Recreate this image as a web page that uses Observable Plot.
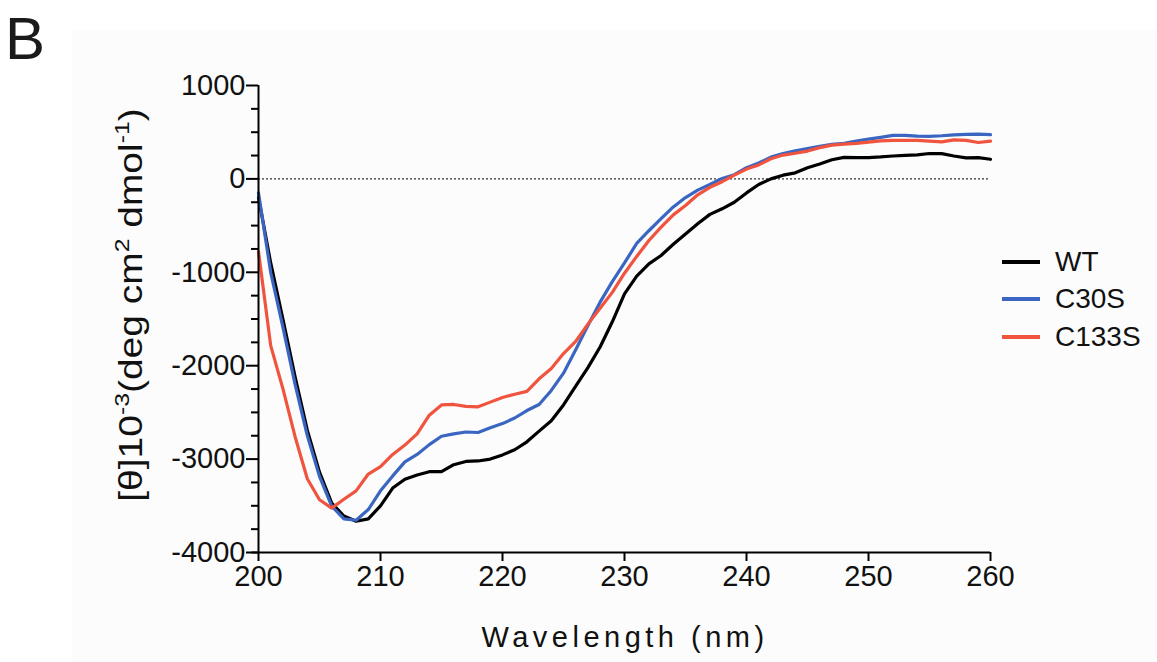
<!DOCTYPE html>
<html>
<head>
<meta charset="utf-8">
<script src="https://cdn.jsdelivr.net/npm/d3@7"></script>
<script src="https://cdn.jsdelivr.net/npm/@observablehq/plot@0.6"></script>
<style>
  html, body { margin: 0; padding: 0; background: #ffffff; }
  #wrap { position: relative; width: 1157px; height: 662px; overflow: hidden; font-family: "Liberation Sans", Arial, sans-serif; color: #111; }
  #panel { position: absolute; left: 72px; top: 30px; width: 1085px; height: 632px; background: #fbfcfb; }
  #letter { position: absolute; left: 5px; top: 9px; font-size: 60px; line-height: 1; color: #1a1a1a; }
  #chart { position: absolute; left: 0; top: 0; }
  #ylabel { position: absolute; left: 131px; top: 305px; transform: translate(-50%, -50%) rotate(-90deg) scaleX(1.18); white-space: nowrap; font-size: 33px; }
  #ylabel sup { font-size: 21px; vertical-align: 0; position: relative; top: -13px; }
  #xlabel { position: absolute; left: 625px; top: 637px; transform: translate(-50%, -50%); white-space: nowrap; font-size: 29px; letter-spacing: 4.5px; }
  #legend { position: absolute; left: 1002px; top: 243px; }
  .lg { display: flex; align-items: center; height: 37.5px; font-size: 28px; }
  .lg span.sw { display: inline-block; width: 38px; height: 4px; margin-right: 15px; }
</style>
</head>
<body>
<div id="wrap">
  <div id="panel"></div>
  <div id="letter">B</div>
  <div id="chart"></div>
  <div id="ylabel">[θ]10<sup>-3</sup>(deg cm<sup>2</sup> dmol<sup>-1</sup>)</div>
  <div id="xlabel">Wavelength (nm)</div>
  <div id="legend"></div>
</div>
<script>
// Wavelength (nm)
const wavelength = [200,201,202,203,204,205,206,207,208,209,210,211,212,213,214,215,216,217,218,219,220,221,222,223,224,225,226,227,228,229,230,231,232,233,234,235,236,237,238,239,240,241,242,243,244,245,246,247,248,249,250,251,252,253,254,255,256,257,258,259,260];

const seriesNames = ["WT", "C30S", "C133S"];
const seriesColors = ["#000000", "#3a66c2", "#f0533e"];

const wt = [-200,-900,-1500,-2120,-2690,-3140,-3470,-3610,-3665,-3640,-3500,-3310,-3215,-3170,-3135,-3135,-3060,-3025,-3020,-3000,-2955,-2900,-2815,-2700,-2590,-2420,-2220,-2020,-1800,-1530,-1230,-1040,-910,-820,-700,-590,-480,-380,-320,-250,-150,-60,0,40,65,120,160,205,230,228,228,235,245,252,258,272,270,245,225,227,210];

const c30s = [-150,-1002,-1587,-2200,-2749,-3185,-3503,-3640,-3655,-3540,-3340,-3180,-3030,-2950,-2845,-2755,-2730,-2710,-2715,-2665,-2620,-2560,-2480,-2415,-2265,-2080,-1830,-1570,-1320,-1100,-900,-690,-555,-426,-300,-200,-120,-60,5,45,120,170,233,272,300,325,350,370,382,405,425,445,466,466,457,455,462,472,476,480,473];

const c133s = [-780,-1785,-2245,-2760,-3210,-3435,-3525,-3430,-3340,-3160,-3080,-2950,-2850,-2730,-2530,-2420,-2415,-2435,-2440,-2390,-2340,-2305,-2275,-2140,-2030,-1870,-1740,-1555,-1385,-1215,-1010,-830,-660,-516,-385,-285,-170,-90,-30,40,105,150,216,255,275,298,335,362,373,380,394,408,412,412,412,405,396,418,412,390,405];

const yMajor = [-4000,-3000,-2000,-1000,0,1000];
const yMinor = d3.range(-4000, 1001, 250).filter(v => !yMajor.includes(v));
const xTicks = [200,210,220,230,240,250,260];

const allSeries = [wt, c30s, c133s];
const data = [];
allSeries.forEach((vals, si) => {
  vals.forEach((v, i) => data.push({series: seriesNames[si], wl: wavelength[i], v}));
});

const chart = Plot.plot({
  width: 1157,
  height: 662,
  marginLeft: 258,
  marginRight: 167,
  marginTop: 85,
  marginBottom: 110,
  style: {background: "transparent", fontFamily: "'Liberation Sans', Arial, sans-serif", fontSize: "28px", color: "#111"},
  x: {domain: [200, 260], axis: null},
  y: {domain: [-4000, 1000], axis: null},
  color: {domain: seriesNames, range: seriesColors},
  marks: [
    Plot.ruleY([0], {stroke: "#333", strokeWidth: 1.2, strokeDasharray: "2,2"}),
    Plot.line(data, {x: "wl", y: "v", z: "series", stroke: "series", strokeWidth: 3.2, curve: "linear"}),
    Plot.ruleX([200], {y1: -4000, y2: 1000, stroke: "#000", strokeWidth: 2}),
    Plot.ruleY([-4000], {x1: 199.45, x2: 260, stroke: "#000", strokeWidth: 2}),
    Plot.axisY({ticks: yMajor, label: null, tickSize: 12, tickPadding: 1, tickFormat: d => String(d), fontSize: 29, stroke: "#000", strokeWidth: 2}),
    Plot.axisY({ticks: yMinor, label: null, tickSize: 7, tickFormat: () => "", stroke: "#000", strokeWidth: 2}),
    Plot.axisX({ticks: xTicks, label: null, tickSize: 9, tickPadding: 4, tickFormat: d => String(d), fontSize: 29, stroke: "#000", strokeWidth: 2})
  ]
});
document.getElementById("chart").appendChild(chart);

const legend = document.getElementById("legend");
seriesNames.forEach((name, i) => {
  const row = document.createElement("div");
  row.className = "lg";
  row.innerHTML = `<span class="sw" style="background:${seriesColors[i]}"></span><span>${name}</span>`;
  legend.appendChild(row);
});
</script>
</body>
</html>
